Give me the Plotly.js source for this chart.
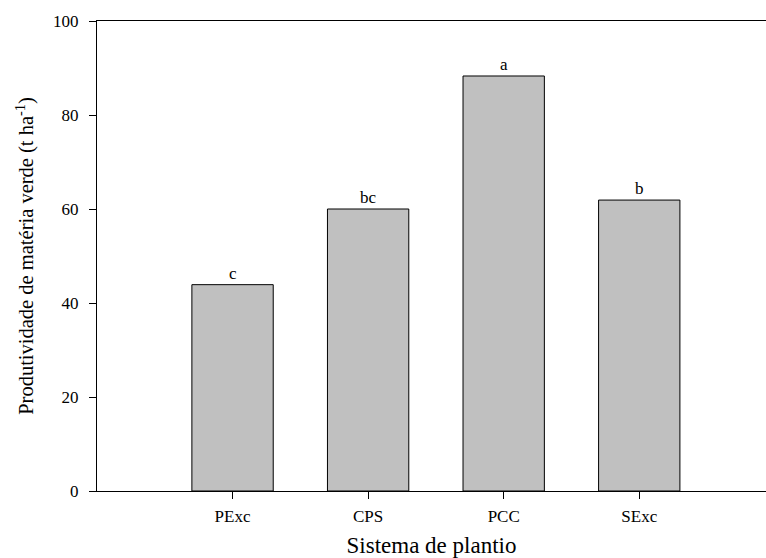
<!DOCTYPE html>
<html>
<head>
<meta charset="utf-8">
<script src="https://cdn.plot.ly/plotly-3.0.1.min.js"></script>
<style>html,body{margin:0;padding:0;background:#fff;}#chart{width:766px;height:558px;}</style>
</head>
<body>
<div id="chart"></div>
<script>
const categories = ["PExc", "CPS", "PCC", "SExc"];
const values = [43.9, 60.0, 88.3, 61.9];
const letters = ["c", "bc", "a", "b"];
const yTicks = [0, 20, 40, 60, 80, 100];

const font = "Liberation Serif";

const trace = {
  type: "bar",
  x: categories,
  y: values,
  width: 0.6,
  marker: {color: "#c0c0c0", line: {color: "#000", width: 1}},
  hoverinfo: "skip"
};

const annotations = categories.map((c, i) => ({
  x: c, y: values[i], xref: "x", yref: "y",
  text: letters[i], showarrow: false,
  yanchor: "bottom", yshift: 0,
  font: {family: font, size: 17, color: "#000"}
}));

const layout = {
  width: 766, height: 558,
  margin: {l: 97, r: 0, t: 21, b: 67},
  paper_bgcolor: "#fff", plot_bgcolor: "#fff",
  showlegend: false,
  font: {family: font, size: 17, color: "#000"},
  xaxis: {
    type: "category",
    range: [-1, 3.935],
    showline: true, linecolor: "#000", linewidth: 1, mirror: true,
    ticks: "outside", ticklen: 7, tickcolor: "#000", tickwidth: 1,
    ticklabelstandoff: 3,
    showgrid: false, zeroline: false,
    tickfont: {family: font, size: 17, color: "#000"},
    title: {text: "Sistema de plantio", font: {family: font, size: 23, color: "#000"}, standoff: 14}
  },
  yaxis: {
    range: [0, 100],
    tickvals: yTicks,
    showline: true, linecolor: "#000", linewidth: 1,
    ticks: "outside", ticklen: 7, tickcolor: "#000", tickwidth: 1,
    ticklabelstandoff: 7,
    showgrid: false, zeroline: false,
    tickfont: {family: font, size: 17, color: "#000"},
    title: {text: "Produtividade de matéria verde (t ha<sup>-1</sup>)", font: {family: font, size: 20.5, color: "#000"}, standoff: 13}
  },
  annotations: annotations
};

Plotly.newPlot("chart", [trace], layout, {displayModeBar: false, staticPlot: true});
</script>
</body>
</html>
